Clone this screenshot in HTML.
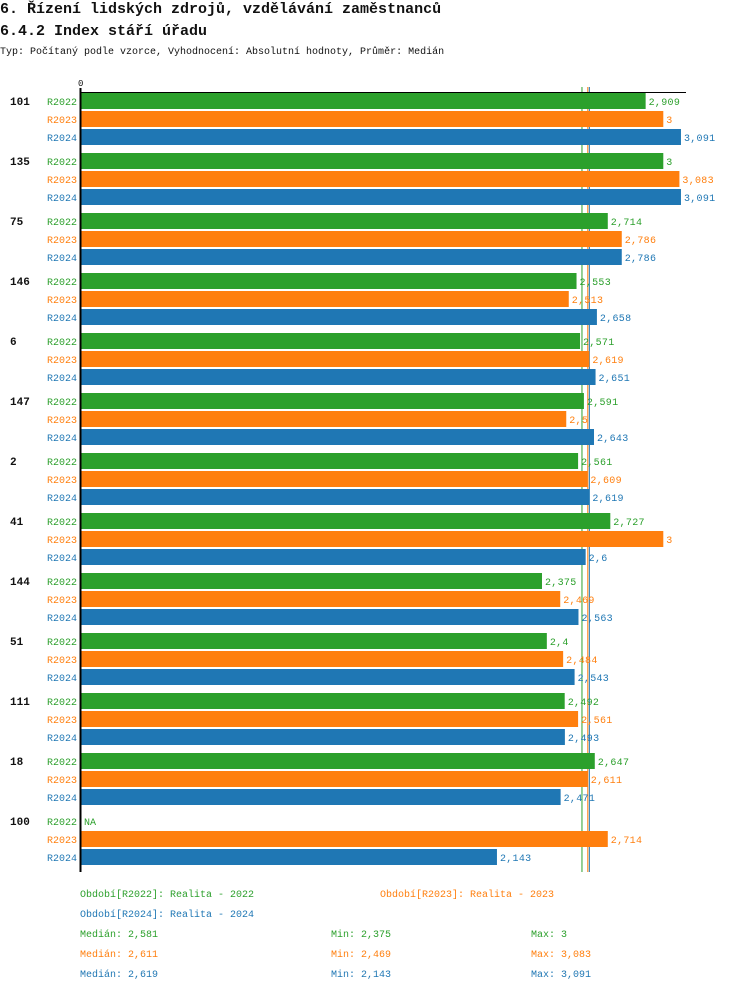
<!DOCTYPE html>
<html><head><meta charset="utf-8"><style>
body{margin:0;background:#fff;}
svg text{font-family:"Liberation Mono",monospace;}
</style></head><body>
<svg id="chart" width="750" height="992" xmlns="http://www.w3.org/2000/svg">
<text x="0" y="13" font-size="15" font-weight="bold" fill="#111">6. Řízení lidských zdrojů, vzdělávání zaměstnanců</text>
<text x="0" y="35" font-size="15" font-weight="bold" fill="#111">6.4.2 Index stáří úřadu</text>
<text x="0" y="54" font-size="10" fill="#111">Typ: Počítaný podle vzorce, Vyhodnocení: Absolutní hodnoty, Průměr: Medián</text>
<text x="78" y="86" font-size="9" fill="#111">0</text>
<g id="medians"></g>
<g id="bars"></g>
<line x1="80" y1="92.5" x2="686" y2="92.5" stroke="#000" stroke-width="1"/>
<line x1="80.5" y1="88" x2="80.5" y2="872" stroke="#000" stroke-width="2"/>
<g id="legend"></g>
</svg>
<script>
const categories=["101","135","75","146","6","147","2","41","144","51","111","18","100"];
const seriesNames=["R2022","R2023","R2024"];
const r2022=[2.909,3,2.714,2.553,2.571,2.591,2.561,2.727,2.375,2.4,2.492,2.647,null];
const r2023=[3,3.083,2.786,2.513,2.619,2.5,2.609,3,2.469,2.484,2.561,2.611,2.714];
const r2024=[3.091,3.091,2.786,2.658,2.651,2.643,2.619,2.6,2.563,2.543,2.493,2.471,2.143];
const medians=[2.581,2.611,2.619];
const mins=[2.375,2.469,2.143];
const maxs=[3,3.083,3.091];
const colors=["#2ca02c","#ff7f0e","#1f77b4"];
const series=[r2022,r2023,r2024];
const NS="http://www.w3.org/2000/svg";
const x=v=>81+v*194.1;
const groupY=i=>93+i*60;
const fmt=v=>String(v).replace('.',',');
function mk(tag,attrs,parent,txt){const e=document.createElementNS(NS,tag);for(const k in attrs)e.setAttribute(k,attrs[k]);if(txt!==undefined)e.textContent=txt;parent.appendChild(e);return e;}
const mg=document.getElementById('medians');
medians.forEach((m,s)=>{
 const l=mk('line',{x1:x(m),x2:x(m),y1:87,y2:872,stroke:colors[s],'stroke-width':1},mg);
 
 
});
const bg=document.getElementById('bars');
categories.forEach((c,i)=>{
 const gy=groupY(i);
 const t=mk('text',{x:10,y:gy+12,'font-size':11,'font-weight':'bold',fill:'#111'},bg,c);
 
 
 series.forEach((arr,s)=>{
  const y=gy+s*18;
  const sl=mk('text',{x:47,y:y+12,'font-size':10,fill:colors[s]},bg,seriesNames[s]);
  
  
  const v=arr[i];
  if(v==null){
   const na=mk('text',{x:84,y:y+12,'font-size':10,fill:colors[s]},bg,'NA');
   
   
   return;
  }
  const r=mk('rect',{x:81,y:y,width:x(v)-81,height:16,fill:colors[s]},bg);
  
  
  const vl=mk('text',{x:x(v)+3,y:y+12,'font-size':10,'letter-spacing':0.3,fill:colors[s]},bg,fmt(v));
  
  
 });
});
const lg=document.getElementById('legend');
const lt=(txt,xx,yy,col,name)=>{const e=mk('text',{x:xx,y:yy,'font-size':10,fill:col},lg,txt);
 
 };
lt('Období[R2022]: Realita - 2022',80,897,colors[0],'legend-entry-r2022');
lt('Období[R2023]: Realita - 2023',380,897,colors[1],'legend-entry-r2023');
lt('Období[R2024]: Realita - 2024',80,917,colors[2],'legend-entry-r2024');
seriesNames.forEach((n,s)=>{
 const yy=937+s*20;
 lt('Medián: '+fmt(medians[s]),80,yy,colors[s],'median-stat');
 lt('Min: '+fmt(mins[s]),331,yy,colors[s],'min-stat');
 lt('Max: '+fmt(maxs[s]),531,yy,colors[s],'max-stat');
});
</script>
</body></html>
